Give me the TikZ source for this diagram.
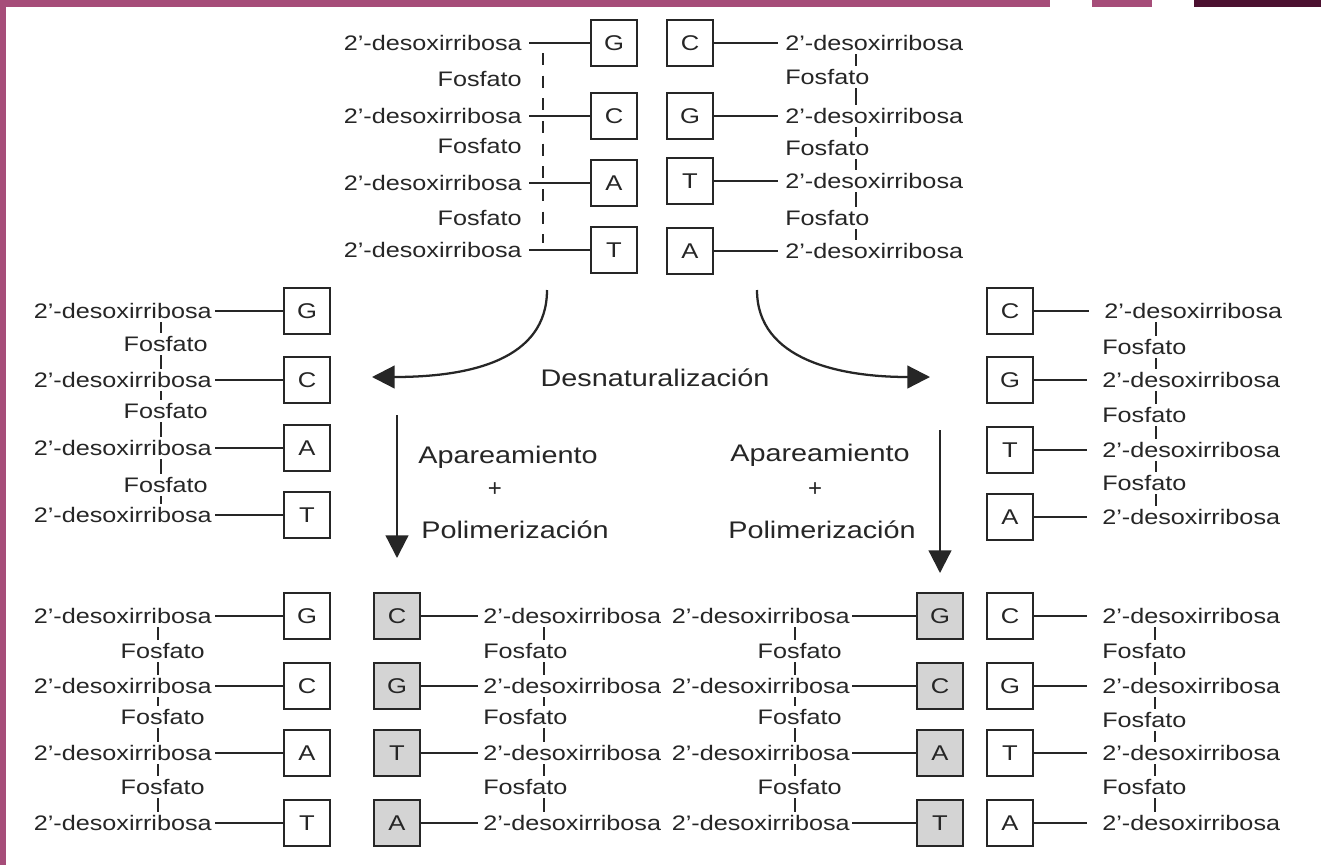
\documentclass[tikz,border=0pt]{standalone}
\usepackage{fontspec}
\setmainfont{Liberation Sans}
\usetikzlibrary{arrows.meta,calc}
\definecolor{ink}{HTML}{262626}
\definecolor{boxgray}{HTML}{D4D4D4}
\definecolor{frame}{HTML}{A64D79}
\definecolor{framedark}{HTML}{4C1130}
\newcommand\wide[1]{\scalebox{1.2}[1]{#1}}
\newcommand\sug{\wide{2’-desoxirribosa}}
\newcommand\fos{\wide{Fosfato}}
% vertical backbone between sugar labels (#1) and phosphate labels (#2) at x of coordinate #3
\newcommand\backbone[3]{%
  \foreach \i/\j in {1/2,2/3,3/4}{%
    \draw[spine] (#1\i.south -| #3) -- (#2\i.north -| #3);
    \draw[spine] (#2\i.south -| #3) -- (#1\j.north -| #3);
  }}
\begin{document}
\begin{tikzpicture}[x=0.75pt,y=-0.75pt,
  lbl/.style={inner sep=0pt, text=ink, font=\fontsize{15.75}{18}\selectfont},
  big/.style={inner sep=0pt, text=ink, font=\fontsize{18}{21}\selectfont},
  base/.style={draw=ink, line width=1.6pt, minimum width=34pt, minimum height=34.5pt,
    inner sep=0pt, text=ink, fill=white, font=\fontsize{16}{18}\selectfont},
  newbase/.style={base, fill=boxgray},
  bond/.style={draw=ink, line width=2.1pt},
  spine/.style={draw=ink, line width=1.6pt, shorten <=2.5pt, shorten >=2.5pt},
  flow/.style={draw=ink, line width=1.7pt, -{Triangle[length=17pt,width=17pt]}},
]
% page and frame
\fill[white] (0,0) rectangle (1321,865);
\useasboundingbox (0,0) rectangle (1321,865);
\fill[frame] (0,0) rectangle (6,865);
\fill[frame] (0,0) rectangle (1050,7);
\fill[frame] (1092,0) rectangle (1152,7);
\fill[framedark] (1194,0) rectangle (1321,7);

% ---------- double helix (top) ----------
\foreach \i/\y/\b in {1/43/G,2/116/C,3/183/A,4/250/T}{
  \node[lbl,anchor=east] (tl\i) at (522,\y) {\sug};
  \node[base] (tlb\i) at (614,\y) {\wide{\b}};
  \draw[bond] ($(tl\i.east)+(7,0)$) -- (tlb\i.west);
}
\foreach \i/\y in {1/79,2/146,3/218}
  \node[lbl,anchor=east] (tlf\i) at (522,\y) {\fos};
\coordinate (tlsa) at (543,53);
\coordinate (tlsb) at (543,243);
\draw[draw=ink, line width=1.9pt, dash pattern=on 9pt off 8pt] (tlsa) -- (tlsb);

\foreach \i/\y/\b in {1/43/C,2/116/G,3/181/T,4/251/A}{
  \node[base] (trb\i) at (690,\y) {\wide{\b}};
  \node[lbl,anchor=west] (tr\i) at (785,\y) {\sug};
  \draw[bond] (trb\i.east) -- ($(tr\i.west)+(-7,0)$);
}
\foreach \i/\y in {1/77,2/148,3/218}
  \node[lbl,anchor=west] (trf\i) at (785,\y) {\fos};
\coordinate (trs) at (856,0);
\backbone{tr}{trf}{trs}

% ---------- separated strands (middle) ----------
\foreach \i/\y/\b in {1/311/G,2/380/C,3/448/A,4/515/T}{
  \node[lbl,anchor=east] (ml\i) at (212,\y) {\sug};
  \node[base] (mlb\i) at (307,\y) {\wide{\b}};
  \draw[bond] ($(ml\i.east)+(3,0)$) -- (mlb\i.west);
}
\foreach \i/\y in {1/344,2/411,3/485}
  \node[lbl,anchor=east] (mlf\i) at (208,\y) {\fos};
\coordinate (mls) at (161,0);
\backbone{ml}{mlf}{mls}

\foreach \i/\y/\b/\lx in {1/311/C/1104,2/380/G/1102,3/450/T/1102,4/517/A/1102}{
  \node[base] (mrb\i) at (1010,\y) {\wide{\b}};
  \node[lbl,anchor=west] (mr\i) at (\lx,\y) {\sug};
  \draw[bond] (mrb\i.east) -- ($(mr\i.west)+(-15,0)$);
}
\foreach \i/\y in {1/347,2/415,3/483}
  \node[lbl,anchor=west] (mrf\i) at (1102,\y) {\fos};
\coordinate (mrs) at (1156,0);
\backbone{mr}{mrf}{mrs}

% ---------- process arrows and captions ----------
\coordinate (dl0) at (547,290);
\coordinate (dl1) at (372,377);
\coordinate (dr0) at (757,290);
\coordinate (dr1) at (930,377);
\draw[flow] (dl0) .. controls (547,360) and (470,377) .. (dl1);
\draw[flow] (dr0) .. controls (757,360) and (840,377) .. (dr1);
\node[big] (den) at (655,378) {\wide{Desnaturalización}};

\coordinate (pl0) at (397,415);
\coordinate (pl1) at (397,558);
\coordinate (pr0) at (940,430);
\coordinate (pr1) at (940,573);
\draw[flow] (pl0) -- (pl1);
\draw[flow] (pr0) -- (pr1);
\node[big] (apl) at (508,457) {\wide{Apareamiento}};
\node[big] (pll) at (495,490) {+};
\node[big] (pol) at (515,530) {\wide{Polimerización}};
\node[big] (apr) at (820,455) {\wide{Apareamiento}};
\node[big] (plr) at (815,490) {+};
\node[big] (por) at (822,530) {\wide{Polimerización}};

% ---------- daughter duplex (bottom left) ----------
\foreach \i/\y/\b/\n in {1/616/G/C,2/686/C/G,3/753/A/T,4/823/T/A}{
  \node[lbl,anchor=east] (bl\i) at (212,\y) {\sug};
  \node[base] (blb\i) at (307,\y) {\wide{\b}};
  \draw[bond] ($(bl\i.east)+(3,0)$) -- (blb\i.west);
  \node[newbase] (bln\i) at (397,\y) {\wide{\n}};
  \node[lbl,anchor=west] (blr\i) at (483,\y) {\sug};
  \draw[bond] (bln\i.east) -- ($(blr\i.west)+(-5,0)$);
}
\foreach \i/\y in {1/651,2/717,3/787}{
  \node[lbl,anchor=east] (blf\i) at (205,\y) {\fos};
  \node[lbl,anchor=west] (blrf\i) at (483,\y) {\fos};
}
\coordinate (bls) at (158,0);
\coordinate (blrs) at (544,0);
\backbone{bl}{blf}{bls}
\backbone{blr}{blrf}{blrs}

% ---------- daughter duplex (bottom right) ----------
\foreach \i/\y/\n/\b in {1/616/G/C,2/686/C/G,3/753/A/T,4/823/T/A}{
  \node[lbl,anchor=east] (br\i) at (850,\y) {\sug};
  \node[newbase] (brn\i) at (940,\y) {\wide{\n}};
  \draw[bond] ($(br\i.east)+(2,0)$) -- (brn\i.west);
  \node[base] (brb\i) at (1010,\y) {\wide{\b}};
  \node[lbl,anchor=west] (brr\i) at (1102,\y) {\sug};
  \draw[bond] (brb\i.east) -- ($(brr\i.west)+(-15,0)$);
}
\foreach \i/\y/\z in {1/651/651,2/717/720,3/787/787}{
  \node[lbl,anchor=east] (brf\i) at (842,\y) {\fos};
  \node[lbl,anchor=west] (brrf\i) at (1102,\z) {\fos};
}
\coordinate (brs) at (795,0);
\coordinate (brrs) at (1155,0);
\backbone{br}{brf}{brs}
\backbone{brr}{brrf}{brrs}
\end{tikzpicture}
\end{document}
